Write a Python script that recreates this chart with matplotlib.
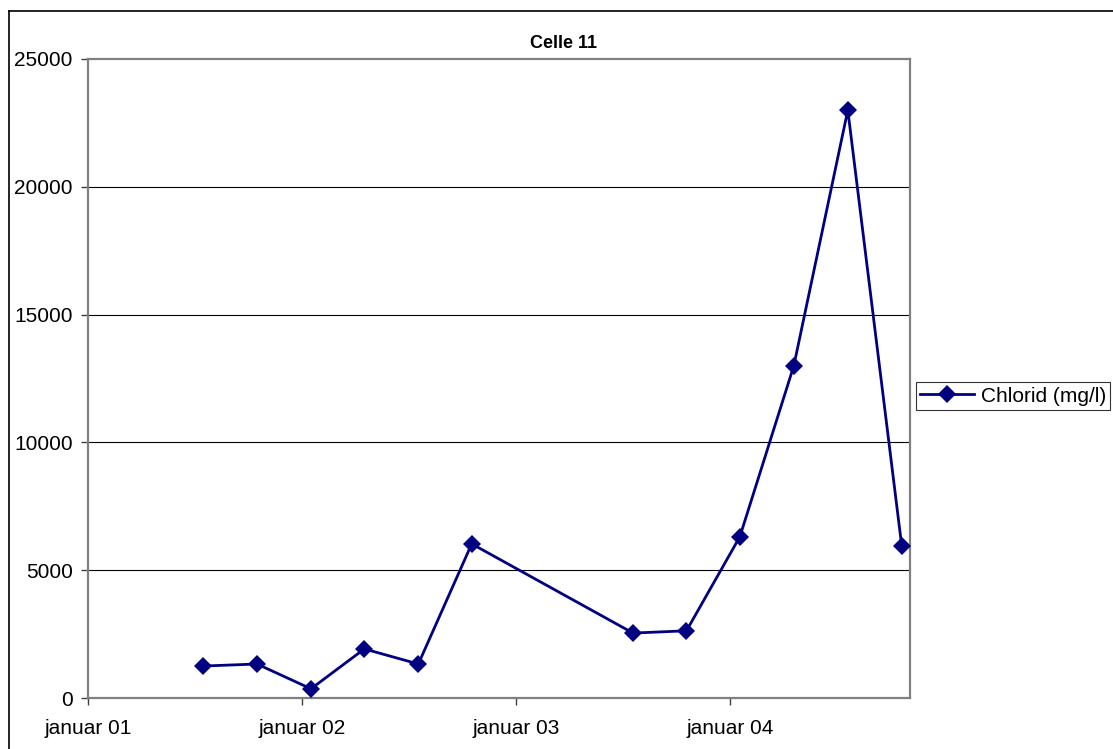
import matplotlib
matplotlib.use("Agg")
import matplotlib.pyplot as plt
from matplotlib.lines import Line2D
import numpy as np

plt.rcParams['font.family'] = ['Liberation Sans', 'DejaVu Sans']

# Prøvetagningsdatoer og chloridkoncentration
datoer = np.array([
    "2001-07-16", "2001-10-16", "2002-01-16", "2002-04-17", "2002-07-18", "2002-10-17",
    "2003-07-19", "2003-10-18", "2004-01-17", "2004-04-18", "2004-07-19", "2004-10-19",
], dtype="datetime64[D]")
chlorid = [1250, 1330, 360, 1920, 1330, 6030, 2540, 2630, 6310, 13000, 23000, 5930]

tick_datoer = np.array(["2001-01-01", "2002-01-01", "2003-01-01", "2004-01-01"],
                       dtype="datetime64[D]")
tick_labels = ["januar 01", "januar 02", "januar 03", "januar 04"]
y_ticks = [0, 5000, 10000, 15000, 20000, 25000]

W, H = 1113, 749
fig = plt.figure(figsize=(W / 100, H / 100), dpi=100)
ax = fig.add_axes([88 / W, 1 - 698 / H, (910 - 88) / W, (698 - 59) / H])

line, = ax.plot(datoer, chlorid, color="#000080", linewidth=2.0,
                marker="D", markersize=9.5, markeredgewidth=0,
                label="Chlorid (mg/l)", clip_on=False, zorder=3)

ax.set_xlim(np.datetime64("2001-01-01"), np.datetime64("2004-11-02"))
ax.set_ylim(0, 25000)
ax.set_xticks(tick_datoer)
ax.set_xticklabels(tick_labels)
ax.set_yticks(y_ticks)
ax.set_yticklabels([str(v) for v in y_ticks])

# vandrette gitterlinjer
for v in y_ticks[1:-1]:
    ax.axhline(v, color="black", linewidth=0.8, zorder=1)

for s in ax.spines.values():
    s.set_color("#808080")
    s.set_linewidth(1.6)

ax.tick_params(axis="both", direction="out", length=5, width=1.0,
               color="#404040", labelsize=15, labelcolor="black")
ax.tick_params(axis="y", pad=6)
ax.tick_params(axis="x", pad=10)

fig.text(563 / W, 1 - 44 / H, "Celle 11", ha="center", va="center",
         fontsize=13, fontweight="bold")

leg = fig.legend(handles=[line], loc="center left",
                 bbox_to_anchor=(916 / W, 1 - 396 / H),
                 fontsize=15, frameon=True, fancybox=False,
                 handlelength=2.6, handletextpad=0.3, borderpad=0.2,
                 borderaxespad=0)
leg.get_frame().set_edgecolor("black")
leg.get_frame().set_linewidth(0.8)

# ramme om diagramområdet
fig.add_artist(Line2D([9 / W, 9 / W], [0, 1 - 11 / H], color="black", linewidth=1.2))
fig.add_artist(Line2D([9 / W, 1], [1 - 11 / H, 1 - 11 / H], color="black", linewidth=1.2))

fig.savefig("out.png", dpi=100)
